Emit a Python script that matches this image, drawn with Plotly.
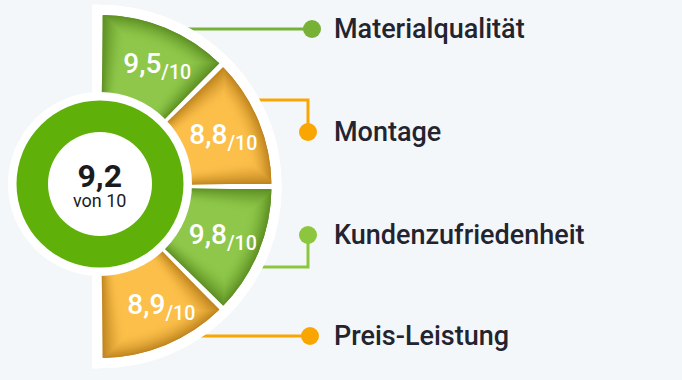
import math
import plotly.graph_objects as go

# ---------------- data ----------------
categories = ["Materialqualität", "Montage", "Kundenzufriedenheit", "Preis-Leistung"]
scores = [9.5, 8.8, 9.8, 8.9]
segment_kind = ["green", "orange", "green", "orange"]
overall_score = 9.2
max_score = 10

# ---------------- styling ----------------
W, H = 682, 380
BG = "#f4f7fa"
TEXT = "#23242f"
FONT = "Roboto"

gradient = {
    "green": ((92, 142, 34), (142, 199, 74)),
    "orange": ((190, 131, 30), (251, 191, 74)),
}
conn_color = ["#77b136", "#f9a603", "#8cc63f", "#f9a603"]

# layout geometry (pixels)
CX, CY = 100, 186.5        # centre of the half disc
R_SEG = 174                # coloured radius
R_WHITE = 182              # white border radius
RING_C = (100, 184)
RING_OUT, RING_IN, RING_WHITE = 83.5, 52, 92
LABEL_THETA = [64.5, 22, -22.5, -63]   # value-label placement angles
LABEL_R = [133, 133, 133, 135]

# connector waypoints (pixels) and label anchor
connectors = [
    [(180, 29), (312, 29)],
    [(250, 100), (308, 100), (308, 132)],
    [(250, 267), (308, 267), (308, 235)],
    [(185, 336), (310, 336)],
]
LABEL_X = 332


def fmt(v):
    return f"{v:.1f}".replace(".", ",")


def mix(c0, c1, t):
    return "rgb(%d,%d,%d)" % tuple(round(a + (b - a) * t) for a, b in zip(c0, c1))


n = len(categories)
seg_w = 180 / n
centers = [90 - seg_w * (i + 0.5) for i in range(n)]

fig = go.Figure()

# ---------- connectors (cartesian pixel axes, drawn beneath polar) ----------
for pts, col in zip(connectors, conn_color):
    fig.add_trace(go.Scatter(
        x=[p[0] for p in pts], y=[p[1] for p in pts], mode="lines",
        line=dict(color=col, width=3), hoverinfo="skip", showlegend=False))
    fig.add_trace(go.Scatter(
        x=[pts[-1][0]], y=[pts[-1][1]], mode="markers",
        marker=dict(color=col, size=18, line=dict(width=0)),
        hoverinfo="skip", showlegend=False))

# ---------- half disc segments ----------
fig.add_trace(go.Barpolar(
    theta=[0], r=[R_WHITE], width=[180], marker=dict(color="white", line=dict(width=0)),
    hoverinfo="skip", showlegend=False))

N_LAYERS = 22
STEP = 1.0
R_REF = 135
for k in range(N_LAYERS + 1):
    inset = 0 if k == 0 else 2.5 + (k - 1) * STEP
    t = math.sin((k / N_LAYERS) * math.pi / 2)
    cols = [mix(gradient[s][0], gradient[s][1], t) for s in segment_kind]
    widths = [seg_w - 2 * math.degrees(inset / R_REF)] * n
    fig.add_trace(go.Barpolar(
        theta=centers, r=[R_SEG - inset] * n, width=widths,
        marker=dict(color=cols, line=dict(color="white", width=5 if k == 0 else 0)),
        hoverinfo="skip", showlegend=False))

fig.add_trace(go.Scatterpolar(
    theta=LABEL_THETA, r=LABEL_R, mode="text",
    text=[f"{fmt(v)}<sub>/{max_score}</sub>" for v in scores],
    textfont=dict(family=FONT, size=28, color="white", weight=500),
    hoverinfo="skip", showlegend=False))

# ---------- centre ring ----------
def dom(cx, cy, r):
    return dict(x=[(cx - r) / W, (cx + r) / W], y=[(H - cy - r) / H, (H - cy + r) / H])

fig.add_trace(go.Pie(values=[1], marker=dict(colors=["white"], line=dict(width=0)),
                     domain=dom(*RING_C, RING_WHITE), textinfo="none", hoverinfo="skip",
                     sort=False, showlegend=False))
fig.add_trace(go.Pie(values=[1], marker=dict(colors=["#5fb10a"], line=dict(width=0)),
                     hole=RING_IN / RING_OUT, domain=dom(*RING_C, RING_OUT),
                     textinfo="none", hoverinfo="skip", sort=False, showlegend=False))

annotations = [
    dict(x=RING_C[0], y=184,
         text=(f"<span style='font-size:32px'><b>{fmt(overall_score)}</b></span><br>"
               f"<span style='font-size:18px'>von {max_score}</span>"),
         showarrow=False, align="center",
         font=dict(family=FONT, size=15.5, color="#1b1b1f"), xanchor="center", yanchor="middle"),
]
for pts, cat in zip(connectors, categories):
    annotations.append(dict(
        x=LABEL_X, y=pts[-1][1], text=cat, showarrow=False, xanchor="left", yanchor="middle",
        font=dict(family=FONT, size=27, color=TEXT, weight=500)))

polar_dom = dict(
    x=[CX / W, (CX + R_WHITE) / W],
    y=[(H - CY - R_WHITE) / H, (H - CY + R_WHITE) / H],
)

fig.update_layout(
    width=W, height=H,
    margin=dict(l=0, r=0, t=0, b=0),
    paper_bgcolor=BG, plot_bgcolor=BG,
    hovermode=False,
    xaxis=dict(range=[0, W], visible=False, fixedrange=True, domain=[0, 1]),
    yaxis=dict(range=[H, 0], visible=False, fixedrange=True, domain=[0, 1]),
    polar=dict(
        domain=polar_dom, sector=[-90, 90], bgcolor="rgba(0,0,0,0)", barmode="overlay",
        radialaxis=dict(range=[0, R_WHITE], visible=False),
        angularaxis=dict(visible=False, rotation=0, direction="counterclockwise"),
    ),
    shapes=[dict(type="rect", xref="x", yref="y", x0=CX - 8, x1=CX,
                 y0=CY - R_WHITE, y1=CY + R_WHITE, fillcolor="white",
                 line=dict(width=0), layer="below")],
    annotations=annotations,
)

fig.write_html(
    "out.html",
    config={"displayModeBar": False},
    post_script="document.body.style.margin='0';document.body.style.overflow='hidden';",
)
